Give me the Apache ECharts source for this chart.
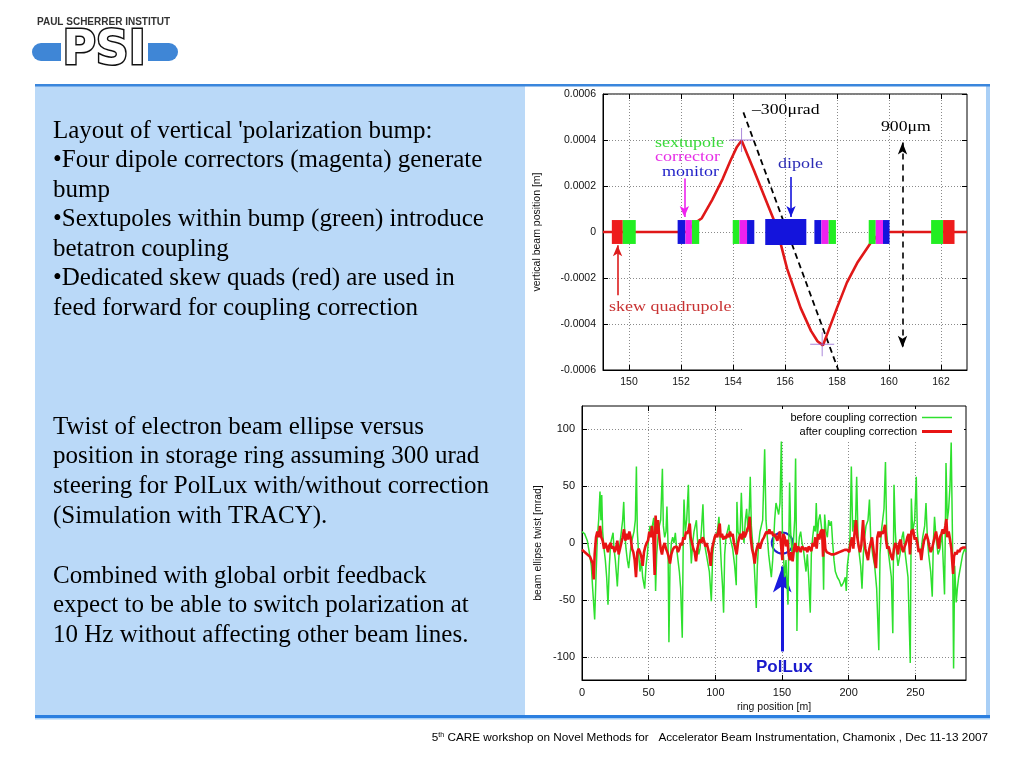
<!DOCTYPE html>
<html><head><meta charset="utf-8">
<script src="https://cdn.jsdelivr.net/npm/echarts@6/dist/echarts.min.js"></script>
<style>html,body{margin:0;padding:0;background:#fff}#c{width:1024px;height:768px}</style>
</head><body><div id="c"></div>
<script>
// ---------- top chart data ----------
const topXTicks = [150,152,154,156,158,160,162];
const topYTicks = [-0.0006,-0.0004,-0.0002,0,0.0002,0.0004,0.0006];
const beamX = [149,152.2,152.55,152.8,153.2,153.6,153.9,154.15,154.33,154.8,155.37,155.65,156.08,156.6,157.0,157.25,157.46,157.7,158.0,158.38,158.8,159.28,159.6,159.9,163];
const beamY = [0,0,0.00004,0.00006,0.00014,0.00023,0.00031,0.00037,0.000398,0.00027,0.000109,0.00003,-0.000159,-0.00033,-0.00043,-0.000475,-0.000493,-0.00042,-0.00033,-0.00022,-0.00013,-0.00005,-0.00001,0,0];
const kickX = [154.4,158.05];
const kickY = [0.00052,-0.0006];
const markerX = [154.33,157.43];
const markerY = [0.0004,-0.000488];
const magStart = [149.34,149.76,151.87,152.17,152.42,153.99,154.25,154.54,155.24,157.13,157.40,157.68,159.22,159.49,159.77,161.62,162.08];
const magEnd   = [149.76,150.26,152.17,152.42,152.70,154.25,154.54,154.82,156.82,157.40,157.68,157.96,159.49,159.77,160.02,162.08,162.52];
const magType  = ['skew','sext','mon','corr','sext','sext','corr','mon','dip','mon','corr','sext','sext','corr','mon','sext','skew'];
const arrowX   = [152.13,156.23,149.56];
const arrowY0  = [0.000233,0.000239,-0.000275];
const arrowY1  = [0.000065,0.000065,-0.000058];
const spanX = 160.52, spanY = [0.000389,-0.000503];

// ---------- bottom chart data ----------
const botXTicks = [0,50,100,150,200,250];
const botYTicks = [-100,-50,0,50,100];
const beforeCorr = [[0,10],[2,8],[4,2],[5,-5],[6,-12],[7,-20],[8,-40],[9.5,-67],[10.5,-30],[11.5,5],[12.5,20],[13.5,45],[14.2,20],[14.8,42],[15.5,10],[16.5,-5],[17.5,-15],[18.5,-30],[19.5,-54],[20.5,-20],[21.5,0],[22.5,5],[23.3,9],[24,-5],[25,-15],[26,-30],[26.5,-38],[27.5,-15],[28.5,0],[29.5,10],[30.5,20],[31.3,36],[32,10],[33,-5],[34,-15],[35,-22],[36,-10],[37,0],[38,5],[39,10],[40,20],[40.8,67],[41.5,10],[42.5,-10],[43.5,-25],[44.5,-15],[45.5,-30],[47,-40],[48,-20],[49,-10],[50,5],[51,15],[52,10],[53.8,22],[54.5,5],[55.2,-42],[56,-10],[57,5],[58,15],[59,20],[60.3,65],[61,15],[62,5],[63,10],[63.7,32],[64.5,0],[65.2,-87],[66,-20],[67,0],[68,5],[69,0],[70,9],[71,-5],[72,-15],[73,-25],[74,-40],[75.2,-83],[76,10],[76.5,38],[77.5,10],[78.5,20],[79.8,51],[80.5,10],[81.5,-5],[82,-18],[83,0],[84,10],[85.8,20],[86.5,5],[87.5,-10],[88.5,-5],[89.5,10],[90.7,34],[91.5,5],[92.5,-5],[94,-15],[95.5,-25],[97,-51],[98,-10],[99,0],[100,5],[101.5,10],[102.7,23],[103.5,5],[104.5,-20],[105.5,-40],[106.2,-61],[107,-10],[108,5],[109,10],[110.2,16],[111,5],[112,0],[113,-5],[114.5,-20],[115.7,-37],[116.2,36],[117,10],[118.5,5],[119.5,44],[120.5,10],[121.5,0],[122.5,20],[123.5,30],[124.5,10],[125.5,30],[126.2,58],[127,15],[128,0],[129,-15],[130.7,-57],[131.5,-20],[132.5,0],[133.5,10],[134.5,15],[135.5,20],[137,82],[138,20],[139,5],[140,-10],[141,-20],[142,-30],[143,-15],[144.5,20],[145.5,35],[146.5,30],[147.5,25],[148.5,35],[149.5,89],[150.3,10],[151,-10],[152,-30],[153,-15],[154.5,-54],[155.7,53],[156.5,10],[157.5,-10],[158.5,0],[159.5,20],[160.2,74],[161,-20],[161.2,-77],[162,-10],[163,5],[164,10],[165,0],[166,-5],[167,-15],[168,-25],[169,-10],[170,-30],[171.2,-61],[172,-10],[173,5],[174,15],[175,10],[175.7,35],[176.5,5],[177.5,20],[178.5,25],[179.5,15],[180.5,5],[181.2,-41],[182,25],[183,10],[184,5],[185,20],[186,15],[187,19],[188,0],[189,-15],[190,-25],[191.5,-30],[193,-33],[194.5,-38],[196,-35],[197.5,-30],[198.2,-42],[199,-20],[200,-10],[201,5],[202,67],[203,10],[204,20],[205,10],[206,58],[207,5],[208,-10],[209,-20],[210,-40],[211,-10],[212,5],[213,15],[214.5,20],[215.6,38],[216.5,5],[218,-10],[219.5,-20],[221,-40],[222.6,-94],[223.5,-10],[224.5,10],[225.5,20],[226.5,30],[227.6,71],[228.5,10],[229.5,-5],[230.5,-15],[232,-30],[233.1,-79],[234,51],[235,10],[236,-10],[237,-20],[238.5,-10],[240,5],[241,10],[242,-5],[243,-15],[244.5,-30],[246.2,-105],[247,39],[248,10],[249.5,20],[250.7,58],[251.5,10],[252.5,-5],[254,-10],[255.5,5],[257,15],[258,35],[259,5],[260,-10],[261.5,-25],[262.7,-47],[263.5,0],[264.4,23],[265.5,5],[267,-10],[268.5,-5],[270,10],[271,-20],[271.9,-45],[272.5,10],[273,70],[274,20],[275,30],[276,50],[276.9,88],[277.8,10],[278.7,-110],[279.5,-20],[280.7,-52],[281.5,-40],[282.5,-30],[284,-20],[285.5,-10],[287,-5],[288,-8]];
const afterCorr = [[0,-6],[1.5,-7],[3,-9],[4.5,-10],[6,-12],[7,-13],[8,-18],[8.8,-32],[9.5,-10],[10.5,5],[11.5,10],[12.5,5],[13.5,15],[14.5,5],[15.5,2],[16.5,-5],[17.5,0],[18.5,-3],[19.5,-8],[20.5,-2],[21.5,0],[22.5,-5],[23.5,-3],[24.5,-8],[25.5,-5],[26.5,2],[27.5,-10],[28.5,-5],[29.5,0],[30.5,5],[31.5,12],[32.5,2],[33.5,8],[34.5,3],[35.5,10],[36.5,5],[37.5,-5],[38.5,-8],[39.5,-15],[40.5,-30],[41.5,-8],[42.5,-5],[43.5,-8],[44.5,-12],[45.5,-20],[46.5,-8],[47.5,-3],[48.5,0],[49.5,2],[50.5,10],[51.5,5],[52.5,15],[53.5,5],[54.5,-28],[55.2,24],[56,8],[57,20],[58,5],[59,-5],[60,-10],[61,-3],[62,0],[63,-5],[64,-8],[65,-12],[66,-18],[67,-10],[68,-6],[69,-4],[70,-5],[71,-3],[72,-8],[73,-5],[74,0],[75,-2],[76,5],[77,3],[78,10],[79,8],[80,12],[80.8,17],[81.5,5],[82.5,0],[83.5,-5],[84.5,-8],[85.5,-16],[86.5,-5],[87.5,0],[88.5,3],[89.5,0],[90.5,5],[91.5,2],[92.5,-3],[93.5,0],[94.5,-5],[95.5,-10],[96.5,-20],[97.5,-5],[98.5,0],[99.5,5],[100.5,8],[101.5,5],[102.5,12],[103.3,17],[104,5],[105,8],[106,3],[107,6],[108,4],[109,8],[110,5],[111,10],[112,6],[113,8],[114,0],[115,-5],[116,-10],[117,0],[118,5],[119,8],[120,3],[121,10],[122,5],[123,8],[124,12],[125,15],[125.8,23],[126.5,5],[127.5,-5],[128.5,-10],[129.5,-18],[130.5,-8],[131.5,-3],[132.5,0],[133.5,-5],[134.5,0],[135.5,3],[136.5,5],[137.5,8],[138.5,10],[139.5,8],[140.5,12],[141.5,8],[142.5,10],[143.5,6],[144.5,8],[145.5,5],[146.5,2],[147.5,7],[148.5,10],[149.5,-5],[150.3,-15],[151,8],[152,5],[153,-3],[154,3],[155,-10],[156,-15],[157,-8],[158,-16],[159,-5],[160,0],[161,-8],[162,-3],[163,-5],[164,-8],[165,-3],[166,-2],[167,-6],[168,-4],[169,-8],[170,-3],[171,-5],[172,-7],[173,0],[174,-3],[175,5],[176,-5],[177,8],[178,3],[179,10],[180,12],[180.8,-12],[181.5,12],[182.5,-5],[183.5,-8],[185,-9],[187,-10],[189,-10],[191,-9],[193,-8],[195,-7],[197,-6],[199,-6],[200.5,-8],[201.5,0],[202.5,5],[203.5,-5],[204.5,10],[205.5,20],[206.5,5],[207.5,-3],[208.5,-8],[209.5,-2],[210.8,20],[211.5,5],[212.5,-5],[213.5,-10],[214.5,-15],[215.5,-5],[216.5,0],[217.5,5],[218.5,-5],[219.5,-15],[220.5,-22],[221.5,5],[222.5,10],[223.5,5],[224.5,10],[225.5,8],[226.5,12],[227.3,16],[228,3],[229,-5],[230,-3],[231,-8],[232,-12],[233,-15],[234,-5],[235,0],[236,-3],[237,-10],[238,0],[239,3],[240,-5],[241,-8],[242,-3],[243,0],[244,5],[245,8],[246,-10],[247,10],[248.3,12],[249.5,3],[250.5,5],[251.5,0],[252.5,-8],[253.5,-5],[254.5,-15],[255.5,-5],[256.5,2],[257.5,5],[258.3,8],[259.5,3],[260.5,-3],[261.5,-8],[262.5,-5],[263.5,0],[264.5,5],[265.5,10],[266.5,3],[267.5,-5],[268.5,5],[269.5,8],[270.5,12],[271.5,8],[272.5,15],[273.3,21],[274,5],[275,10],[276,3],[277,-5],[278.3,-27],[279,-12],[280,-8],[281,-10],[282,-6],[283,-8],[284,-5],[285,-6],[286,-4],[287,-5],[288,-4]];
const polluxPos = [150.2, 0];
const polluxArrowY = [-95, -20.5];

// ---------- page texts ----------
const block1 = ["Layout of vertical 'polarization bump:","•Four dipole correctors (magenta) generate","bump","•Sextupoles within bump (green) introduce","betatron coupling","•Dedicated skew quads (red) are used in","feed forward for coupling correction"];
const block2 = ["Twist of electron beam ellipse versus","position in storage ring assuming 300 urad","steering for PolLux with/without correction","(Simulation with TRACY).","","Combined with global orbit feedback","expect to be able to switch polarization at","10 Hz without affecting other beam lines."];

const magColors = {skew:'#ee1c1c', sext:'#22ee22', corr:'#ee22ee', mon:'#1414dc', dip:'#1414dc'};
const SANS = '"Liberation Sans", Arial, sans-serif';
const SERIF = '"Liberation Serif", "Times New Roman", serif';

const chart = echarts.init(document.getElementById('c'), null, {renderer:'canvas'});

const gridLine = {show:true, lineStyle:{color:'#8a8a8a', type:[1,2], width:1}};
const lab = (size)=>({color:'#111', fontSize:size, fontFamily:SANS});
const tick = (ticks)=>({show:true, inside:true, length:5, customValues:ticks, lineStyle:{color:'#000', width:1}});
const aLine = {show:true, onZero:false, lineStyle:{color:'#000'}};

function mirrorX(g, mn, mx, ticks){
  return {type:'value', gridIndex:g, position:'top', min:mn, max:mx,
    axisLine:{show:false, onZero:false}, axisLabel:{show:false, customValues:ticks}, splitLine:{show:false},
    axisTick:tick(ticks)};
}
function mirrorY(g, mn, mx, ticks){
  return {type:'value', gridIndex:g, position:'right', min:mn, max:mx,
    axisLine:{show:false, onZero:false}, axisLabel:{show:false, customValues:ticks}, splitLine:{show:false},
    axisTick:tick(ticks)};
}

const option = {
  animation:false,
  backgroundColor:'#fff',
  grid:[
    {left:603, top:94, width:364, height:276, show:true, borderColor:'#000', borderWidth:1, backgroundColor:'rgba(0,0,0,0)'},
    {left:582, top:406, width:384, height:274, show:true, borderColor:'#000', borderWidth:1, backgroundColor:'rgba(0,0,0,0)'}
  ],
  xAxis:[
    {type:'value', gridIndex:0, min:149, max:163, position:'bottom',
     axisLine:aLine,
     axisTick:tick(topXTicks),
     axisLabel:{...lab(10.5), margin:7, customValues:topXTicks},
     splitLine:gridLine},
    {type:'value', gridIndex:1, min:0, max:288, position:'bottom',
     name:'ring position [m]', nameLocation:'middle', nameGap:22,
     nameTextStyle:{color:'#111', fontSize:10.5, fontFamily:SANS},
     axisLine:aLine,
     axisTick:tick(botXTicks),
     axisLabel:{...lab(11), margin:7, customValues:botXTicks},
     splitLine:gridLine},
    mirrorX(0,149,163,topXTicks),
    mirrorX(1,0,288,botXTicks)
  ],
  yAxis:[
    {type:'value', gridIndex:0, min:-0.0006, max:0.0006, position:'left',
     name:'vertical beam position [m]', nameLocation:'middle', nameGap:60, nameRotate:90,
     nameTextStyle:{color:'#111', fontSize:10.5, fontFamily:SANS},
     axisLine:aLine,
     axisTick:tick(topYTicks),
     axisLabel:{...lab(10.5), margin:7, customValues:topYTicks,
       formatter:(v)=> Math.abs(v)<1e-12 ? '0' : v.toFixed(4)},
     splitLine:gridLine},
    {type:'value', gridIndex:1, min:-120, max:120, position:'left',
     name:'beam ellipse twist [mrad]', nameLocation:'middle', nameGap:38, nameRotate:90,
     nameTextStyle:{color:'#111', fontSize:10.5, fontFamily:SANS},
     axisLine:aLine,
     axisTick:tick(botYTicks),
     axisLabel:{...lab(11), margin:7, customValues:botYTicks},
     splitLine:gridLine},
    mirrorY(0,-0.0006,0.0006,topYTicks),
    mirrorY(1,-120,120,botYTicks)
  ],
  legend:{
    orient:'vertical', right:60, top:409, align:'right',
    itemWidth:30, itemHeight:8, itemGap:3,
    backgroundColor:'#fff', padding:[3,12,3,48],
    selectedMode:false,
    textStyle:{color:'#000', fontSize:11, fontFamily:SANS},
    data:[{name:'before coupling correction', icon:'path://M0,0H20V1H0Z'},
          {name:'after coupling correction', icon:'path://M0,0H10V1H0Z'}],
    z:20
  },
  series:[
    // top chart
    {type:'line', name:'kick', xAxisIndex:0, yAxisIndex:0, z:6, symbol:'none',
     data: kickX.map((x,i)=>[x,kickY[i]]),
     lineStyle:{color:'#000', width:1.8, type:[6,4]},
     markLine:{silent:true, animation:false, label:{show:false}, symbolSize:[7,11],
       data:[
         ...arrowX.map((x,i)=>[
           {coord:[x,arrowY0[i]], symbol:'none', lineStyle:{color:['#ee22ee','#1414dc','#dd1c1c'][i], width:1.6, type:'solid'}},
           {coord:[x,arrowY1[i]], symbol:'arrow'}]),
         [{coord:[spanX,spanY[0]], symbol:'arrow', symbolSize:[7,12], lineStyle:{color:'#000', width:1.6, type:[6,5]}},
          {coord:[spanX,spanY[1]], symbol:'arrow', symbolSize:[7,12]}]
       ]}},
    {type:'line', name:'beam', xAxisIndex:0, yAxisIndex:0, z:7, symbol:'none',
     data: beamX.map((x,i)=>[x,beamY[i]]),
     lineStyle:{color:'#e01818', width:2.6}},
    {type:'custom', name:'magnets', xAxisIndex:0, yAxisIndex:0, z:8,
     data: magStart.map((s,i)=>[s,magEnd[i],i]),
     renderItem:(params, api)=>{
       const t = magType[api.value(2)];
       const hh = t==='dip' ? 0.000056 : 0.000052;
       const p0 = api.coord([api.value(0), hh]);
       const p1 = api.coord([api.value(1), -hh]);
       return {type:'rect', shape:{x:p0[0], y:p0[1], width:p1[0]-p0[0], height:p1[1]-p0[1]},
               style:{fill:magColors[t]}};
     }},
    {type:'scatter', name:'markers', xAxisIndex:0, yAxisIndex:0, z:9,
     data: markerX.map((x,i)=>[x,markerY[i]]),
     symbol:'path://M0,9.6H20V10.4H0ZM9.6,0H10.4V20H9.6Z', symbolSize:24,
     itemStyle:{color:'#9466d0'}},
    // bottom chart
    {type:'line', name:'before coupling correction', xAxisIndex:1, yAxisIndex:1, z:6, symbol:'none',
     data: beforeCorr, lineStyle:{color:'#2ee02e', width:1.5}, itemStyle:{color:'#2ee02e'}},
    {type:'line', name:'after coupling correction', xAxisIndex:1, yAxisIndex:1, z:7, symbol:'none',
     data: afterCorr, lineStyle:{color:'#e81414', width:2.6}, itemStyle:{color:'#e81414'},
     markPoint:{silent:true, animation:false, label:{show:false},
       data:[{coord:polluxPos, symbol:'circle', symbolSize:21,
              itemStyle:{color:'rgba(0,0,0,0)', borderColor:'#2222cc', borderWidth:2}}]},
     markLine:{silent:true, animation:false, label:{show:false}, symbolSize:[14,26],
       data:[[{coord:[polluxPos[0],polluxArrowY[0]], symbol:'none', lineStyle:{color:'#1a1add', width:3, type:'solid'}},
              {coord:[polluxPos[0],polluxArrowY[1]], symbol:'arrow'}]]}}
  ],
  graphic:[
    // page decoration
    {type:'rect', z:-10, silent:true, shape:{x:35, y:86, width:490, height:630}, style:{fill:'#bad9f8'}},
    {type:'rect', z:-10, silent:true, shape:{x:986, y:86, width:4, height:630}, style:{fill:'#a9cff6'}},
    {type:'rect', z:-9, silent:true, shape:{x:35, y:84, width:955, height:2.5}, style:{fill:'#3a86dc'}},
    {type:'rect', z:-9, silent:true, shape:{x:35, y:715, width:955, height:3}, style:{fill:'#2b7fe0'}},
    {type:'rect', z:-9, silent:true, shape:{x:35, y:718, width:955, height:1.5}, style:{fill:'#a8d0f6'}},
    // logo
    {type:'text', z:3, x:37, y:22, style:{text:'PAUL SCHERRER INSTITUT', font:'bold 10px '+SANS, fill:'#333', verticalAlign:'middle'}},
    {type:'rect', z:3, shape:{x:32, y:43, width:146, height:18, r:9}, style:{fill:'#3f86d6'}},
    {type:'rect', z:3, shape:{x:61, y:32, width:87, height:39, r:3}, style:{fill:'#fff'}},
    {type:'text', z:4, x:104, y:52, scaleX:0.95, style:{text:'PSI', font:'bold 48px "DejaVu Sans", sans-serif', fill:'#fff', stroke:'#111', lineWidth:3, align:'center', verticalAlign:'middle'}},
    // left panel text
    {type:'text', z:3, x:53, y:116.25, style:{text:block1.join('\n'), font:'25px '+SERIF, fill:'#000', lineHeight:29.5, verticalAlign:'top'}},
    {type:'text', z:3, x:53, y:412.1, style:{text:block2.join('\n'), font:'25px '+SERIF, fill:'#000', lineHeight:29.8, verticalAlign:'top'}},
    // top chart annotations
    {type:'text', z:30, x:752, y:110, scaleX:1.18, style:{text:'–300μrad', font:'15px '+SERIF, fill:'#000', verticalAlign:'middle'}},
    {type:'text', z:30, x:881, y:127, scaleX:1.18, style:{text:'900μm', font:'15px '+SERIF, fill:'#000', verticalAlign:'middle'}},
    {type:'text', z:30, x:655, y:143, scaleX:1.2, style:{text:'sextupole', font:'15px '+SERIF, fill:'#3ada3a', verticalAlign:'middle'}},
    {type:'text', z:30, x:655, y:157, scaleX:1.2, style:{text:'corrector', font:'15px '+SERIF, fill:'#e62ee6', verticalAlign:'middle'}},
    {type:'text', z:30, x:662, y:172, scaleX:1.2, style:{text:'monitor', font:'15px '+SERIF, fill:'#1f1fc8', verticalAlign:'middle'}},
    {type:'text', z:30, x:778, y:164, scaleX:1.2, style:{text:'dipole', font:'15px '+SERIF, fill:'#2a2ab4', verticalAlign:'middle'}},
    {type:'text', z:30, x:609, y:307, scaleX:1.2, style:{text:'skew quadrupole', font:'15px '+SERIF, fill:'#c83232', verticalAlign:'middle'}},
    // bottom chart annotation
    {type:'text', z:30, x:756, y:667, style:{text:'PolLux', font:'bold 17px '+SANS, fill:'#1a1acc', verticalAlign:'middle'}},
    // footer
    {type:'text', z:3, x:988, y:738, style:{
      text:'{n|5}{s|th}{n| CARE workshop on Novel Methods for   Accelerator Beam Instrumentation, Chamonix , Dec 11-13 2007}',
      align:'right', verticalAlign:'middle',
      rich:{n:{font:'11.75px '+SANS, fill:'#000'}, s:{font:'7px '+SANS, fill:'#000', verticalAlign:'top', padding:[0,0,6,0]}}}}
  ]
};
chart.setOption(option);
</script>
</body></html>
